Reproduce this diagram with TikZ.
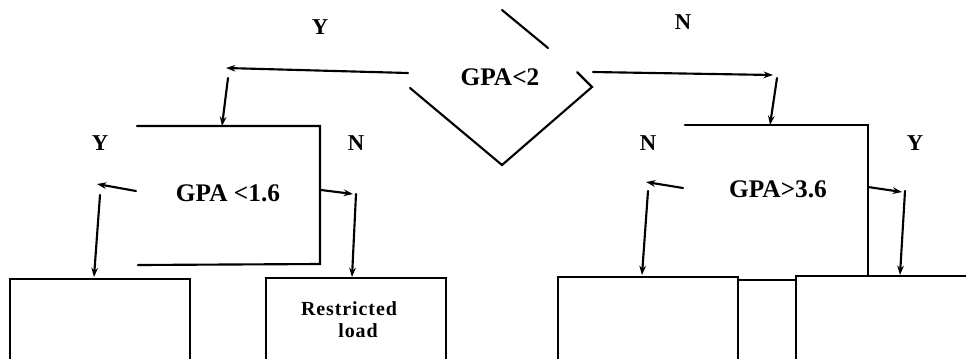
\documentclass[tikz,border=0pt]{standalone}
\usepackage{fontspec}
\setmainfont{Liberation Serif}
\newfontfamily\spacedfont[LetterSpace=4.5]{Liberation Serif}
\usetikzlibrary{arrows.meta}
\tikzset{
  ln/.style={line width=1.6pt, line cap=round},
  arr/.style={ln, -{Stealth[length=7pt,width=5pt]}},
  lbl/.style={font=\fontsize{17}{19}\selectfont\bfseries, inner sep=0pt},
  gpa/.style={font=\fontsize{19}{21}\selectfont\bfseries, inner sep=0pt},
  leaf/.style={draw, line width=1.6pt, rectangle, anchor=north west, inner sep=0pt},
  leaftxt/.style={font=\fontsize{15}{17}\selectfont\bfseries\spacedfont, inner sep=0pt}
}
\begin{document}
\begin{tikzpicture}[x=0.75pt,y=-0.75pt]
\useasboundingbox (0,0) rectangle (966,358);
% top decision
\node[gpa] (d1) at (500,77) {GPA<2};
\draw[ln] (502,10) -- (548,48);
\draw[ln] (410,88) -- (502,165) -- (592,87) -- (577,72);
\node[lbl] (y0) at (320,27) {Y};
\node[lbl] (n0) at (683,22) {N};
% connector coordinates, top
\coordinate (a1) at (408,73); \coordinate (a2) at (226,68);
\coordinate (a3) at (228,78); \coordinate (a4) at (222,126);
\coordinate (c1) at (593,72); \coordinate (c2) at (773,75);
\coordinate (c3) at (777,78); \coordinate (c4) at (770,125);
\draw[arr] (a1) -- (a2);
\draw[arr] (a3) -- (a4);
\draw[arr] (c1) -- (c2);
\draw[arr] (c3) -- (c4);
% left decision box
\draw[ln] (137,126) -- (320,126) -- (320,264) -- (138,265);
\node[gpa] (b1) at (228,193) {GPA <1.6};
\node[lbl] (y1) at (100,143) {Y};
\node[lbl] (n1) at (356,143) {N};
\coordinate (e1) at (136,191); \coordinate (e2) at (97,184);
\coordinate (e3) at (100,195); \coordinate (e4) at (94,277);
\coordinate (f1) at (321,190); \coordinate (f2) at (353,194);
\coordinate (f3) at (356,194); \coordinate (f4) at (352,277);
\draw[arr] (e1) -- (e2);
\draw[arr] (e3) -- (e4);
\draw[arr] (f1) -- (f2);
\draw[arr] (f3) -- (f4);
% right decision box
\draw[ln] (685,125) -- (868,125) -- (868,275);
\node[gpa] (b2) at (778,189) {GPA>3.6};
\node[lbl] (n2) at (648,143) {N};
\node[lbl] (y2) at (915,143) {Y};
\coordinate (g1) at (683,188); \coordinate (g2) at (646,182);
\coordinate (g3) at (648,191); \coordinate (g4) at (642,275);
\coordinate (h1) at (868,187); \coordinate (h2) at (902,192);
\coordinate (h3) at (905,191); \coordinate (h4) at (900,275);
\draw[arr] (g1) -- (g2);
\draw[arr] (g3) -- (g4);
\draw[arr] (h1) -- (h2);
\draw[arr] (h3) -- (h4);
% leaf boxes (run off the bottom edge)
\node[leaf, minimum width=180*0.75pt, minimum height=100*0.75pt] (l1) at (9,278) {};
\node[leaf, minimum width=180*0.75pt, minimum height=100*0.75pt] (l2) at (265,277) {};
\node[leaf, minimum width=180*0.75pt, minimum height=100*0.75pt] (l3) at (557,276) {};
\node[leaf, minimum width=200*0.75pt, minimum height=100*0.75pt] (l4) at (795,275) {};
\node[leaftxt] (r1) at (349,309) {Restricted};
\node[leaftxt] (r2) at (358,331) {load};
\draw[ln] (l3.north east |- 0,280) -- (l4.north west |- 0,280);
\end{tikzpicture}
\end{document}
